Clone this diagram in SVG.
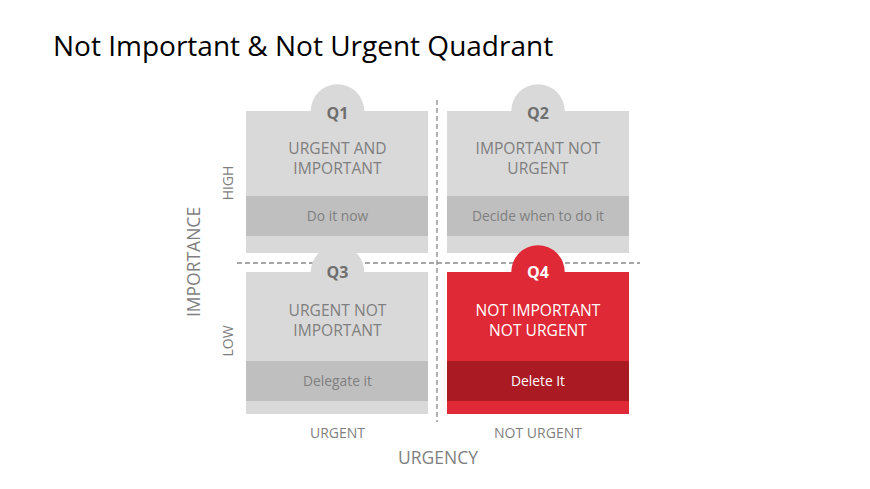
<svg xmlns="http://www.w3.org/2000/svg" width="870" height="489" viewBox="0 0 870 489">
<style>
.box{fill:#d9d9d9}
.band{fill:#bfbfbf}
.t{font-family:"Open Sans","Liberation Sans",sans-serif;fill:#7f7f7f;text-anchor:middle}
.head{font-size:15.6px}
.act{font-size:13.8px}
.q{font-size:16px;font-weight:bold;fill:#6f6f6f}
.ax{font-size:14px}
.axb{font-size:17.5px}
.red .box{fill:#e02936}
.red .band{fill:#a91a23}
.red .t{fill:#ffffff}
.dash{stroke:#8a8a8a;stroke-width:1.3;stroke-dasharray:5 3;fill:none}
</style>
<rect width="870" height="489" fill="#ffffff"/>
<text x="53" y="56" font-family="'Open Sans','Liberation Sans',sans-serif" font-size="28" fill="#000000">Not Important &amp; Not Urgent Quadrant</text>

<g id="connectors">
<line class="dash" x1="237" y1="263" x2="640" y2="263"/>
<line class="dash" x1="437" y1="100" x2="437" y2="422"/>
</g>

<g id="q1">
<circle class="box" cx="337.5" cy="111" r="26.7"/>
<rect class="box" x="246" y="111" width="182" height="142"/>
<rect class="band" x="246" y="196" width="182" height="40"/>
<text class="t q" x="337.5" y="119">Q1</text>
<text class="t head" x="337.5" y="154">URGENT AND</text>
<text class="t head" x="337.5" y="174">IMPORTANT</text>
<text class="t act" x="337.5" y="221">Do it now</text>
</g>

<g id="q2">
<circle class="box" cx="538" cy="111" r="26.7"/>
<rect class="box" x="447" y="111" width="182" height="142"/>
<rect class="band" x="447" y="196" width="182" height="40"/>
<text class="t q" x="538" y="119">Q2</text>
<text class="t head" x="538" y="154">IMPORTANT NOT</text>
<text class="t head" x="538" y="174">URGENT</text>
<text class="t act" x="538" y="221">Decide when to do it</text>
</g>

<g id="q3">
<circle class="box" cx="337.5" cy="272" r="26.7"/>
<rect class="box" x="246" y="272" width="182" height="142"/>
<rect class="band" x="246" y="361" width="182" height="40"/>
<text class="t q" x="337.5" y="278">Q3</text>
<text class="t head" x="337.5" y="316">URGENT NOT</text>
<text class="t head" x="337.5" y="336">IMPORTANT</text>
<text class="t act" x="337.5" y="386">Delegate it</text>
</g>

<g id="q4" class="red">
<circle class="box" cx="538" cy="272" r="26.7"/>
<rect class="box" x="447" y="272" width="182" height="142"/>
<rect class="band" x="447" y="361" width="182" height="40"/>
<text class="t q" x="538" y="278" style="fill:#ffffff">Q4</text>
<text class="t head" x="538" y="316">NOT IMPORTANT</text>
<text class="t head" x="538" y="336">NOT URGENT</text>
<text class="t act" x="538" y="386">Delete It</text>
</g>

<g id="axes">
<text class="t ax" transform="translate(233 183) rotate(-90)">HIGH</text>
<text class="t ax" transform="translate(233 341) rotate(-90)">LOW</text>
<text class="t axb" transform="translate(200 262) rotate(-90)">IMPORTANCE</text>
<text class="t ax" x="337.5" y="438">URGENT</text>
<text class="t ax" x="538" y="438">NOT URGENT</text>
<text class="t axb" x="438" y="464">URGENCY</text>
</g>
</svg>
